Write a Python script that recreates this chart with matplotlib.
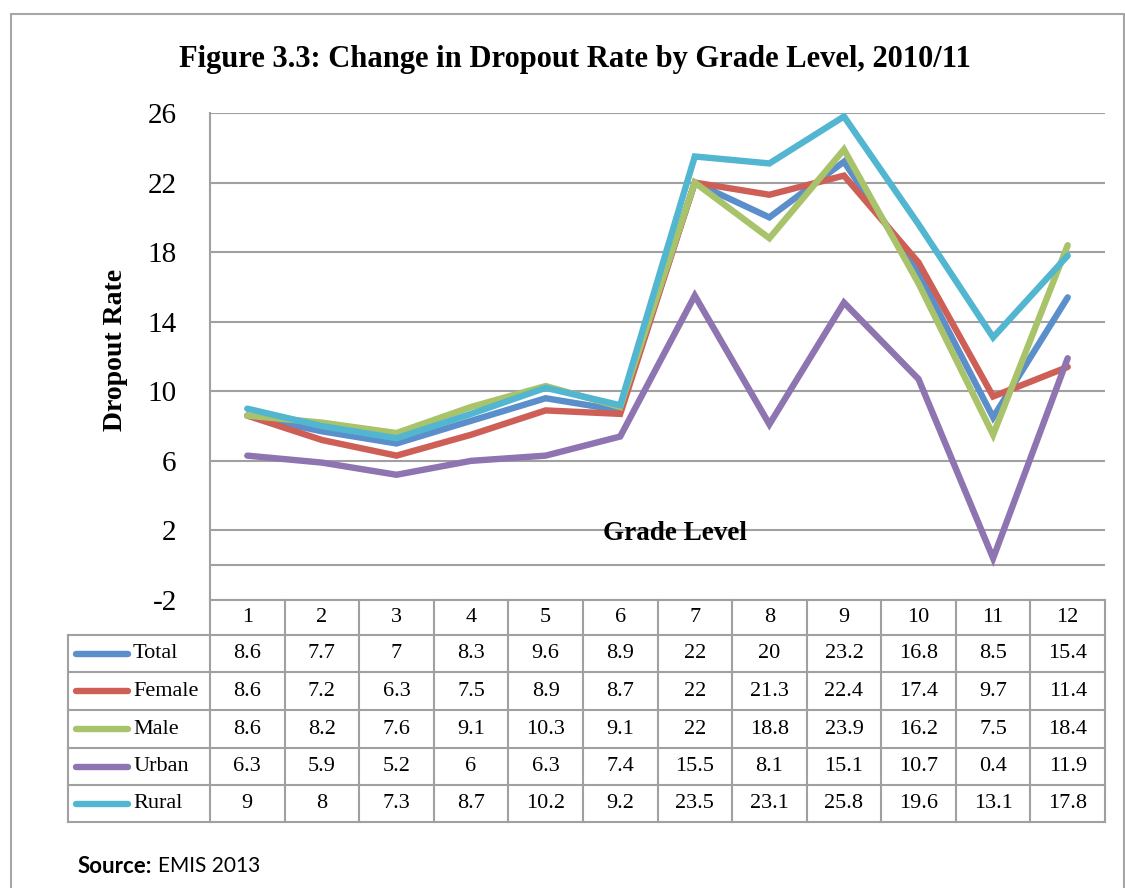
import matplotlib.pyplot as plt
from matplotlib.lines import Line2D
from matplotlib.patches import Rectangle

# data
grades = ['1', '2', '3', '4', '5', '6', '7', '8', '9', '10', '11', '12']
series_names = ['Total', 'Female', 'Male', 'Urban', 'Rural']
total = [8.6, 7.7, 7, 8.3, 9.6, 8.9, 22, 20, 23.2, 16.8, 8.5, 15.4]
female = [8.6, 7.2, 6.3, 7.5, 8.9, 8.7, 22, 21.3, 22.4, 17.4, 9.7, 11.4]
male = [8.6, 8.2, 7.6, 9.1, 10.3, 9.1, 22, 18.8, 23.9, 16.2, 7.5, 18.4]
urban = [6.3, 5.9, 5.2, 6, 6.3, 7.4, 15.5, 8.1, 15.1, 10.7, 0.4, 11.9]
rural = [9, 8, 7.3, 8.7, 10.2, 9.2, 23.5, 23.1, 25.8, 19.6, 13.1, 17.8]
y_ticks = [-2, 2, 6, 10, 14, 18, 22, 26]

series = [total, female, male, urban, rural]
colors = ['#5b8fcb', '#cd5f57', '#a8c36a', '#8e74b0', '#52b6d0']

serif = ['Liberation Serif', 'DejaVu Serif']
W, H = 1125, 888
grid_col = '#a0a0a0'


def fx(x):
    return x / W


def fy(y):
    return 1 - y / H


fig = plt.figure(figsize=(11.25, 8.88), dpi=100)

# outer frame
fig.patches.append(Rectangle((fx(11), fy(900)), fx(1124) - fx(11), fy(14) - fy(900),
                             transform=fig.transFigure, fill=False,
                             edgecolor='#a6a6a6', linewidth=1.5))

# plot area
left, right, top, bottom = 210, 1105, 113, 600
ax = fig.add_axes([fx(left), fy(bottom), fx(right) - fx(left), fy(top) - fy(bottom)])
x = list(range(len(grades)))
for vals, c in zip(series, colors):
    ax.plot(x, vals, color=c, linewidth=4.6, solid_capstyle='round', solid_joinstyle='miter')

ax.set_xlim(-0.5, len(grades) - 0.5)
ax.set_ylim(-2, 26)
ax.set_yticks(y_ticks)
ax.set_yticklabels([str(v) for v in y_ticks], fontfamily=serif, fontsize=21)
ax.tick_params(axis='y', length=0, pad=24)
ax.set_xticks([])
for t in y_ticks:
    ax.axhline(t, color=grid_col, linewidth=1.5, zorder=0)
ax.axhline(0, color=grid_col, linewidth=1.5, zorder=0)
for s in ['top', 'right', 'bottom']:
    ax.spines[s].set_visible(False)
ax.spines['left'].set_color(grid_col)
ax.spines['left'].set_linewidth(1.5)

ax.text(0.52, 1.8, 'Grade Level', transform=ax.get_yaxis_transform(), ha='center',
        va='center', fontfamily=serif, fontsize=19.5, fontweight='bold')

fig.text(fx(575), fy(60), 'Figure 3.3: Change in Dropout Rate by Grade Level, 2010/11',
         ha='center', va='center', fontfamily=serif, fontsize=22, fontweight='bold')
fig.text(fx(115), fy(350), 'Dropout Rate', rotation=90, ha='center', va='center',
         fontfamily=serif, fontsize=20, fontweight='bold')

# data table under the chart
col_w = (right - left) / len(grades)
row_edges = [600, 635, 672, 710, 748, 785, 822]
tbl_left = 68


def hline(y, x0, x1):
    fig.add_artist(Line2D([fx(x0), fx(x1)], [fy(y), fy(y)], color=grid_col, linewidth=1.5))


def vline(x, y0, y1):
    fig.add_artist(Line2D([fx(x), fx(x)], [fy(y0), fy(y1)], color=grid_col, linewidth=1.5))


hline(row_edges[0], left, right)
for y in row_edges[1:]:
    hline(y, tbl_left, right)
vline(tbl_left, row_edges[1], row_edges[-1])
for i in range(len(grades) + 1):
    vline(left + i * col_w, row_edges[0], row_edges[-1])

for i, g in enumerate(grades):
    cx = left + (i + 0.5) * col_w
    fig.text(fx(cx), fy((row_edges[0] + row_edges[1]) / 2), g, ha='center', va='center',
             fontfamily=serif, fontsize=16)

for r, (name, vals, c) in enumerate(zip(series_names, series, colors)):
    cy = (row_edges[r + 1] + row_edges[r + 2]) / 2
    fig.add_artist(Line2D([fx(76), fx(128)], [fy(cy), fy(cy)], color=c, linewidth=4.6,
                          solid_capstyle='round'))
    fig.text(fx(133), fy(cy), name, ha='left', va='center', fontfamily=serif, fontsize=16)
    for i, v in enumerate(vals):
        cx = left + (i + 0.5) * col_w
        fig.text(fx(cx), fy(cy), f'{v:g}', ha='center', va='center',
                 fontfamily=serif, fontsize=16)

src_font = ['Lato', 'DejaVu Sans']
fig.text(fx(78), fy(866), 'Source:', ha='left', va='center', fontsize=16,
         fontweight='bold', fontfamily=src_font)
fig.text(fx(158), fy(866), 'EMIS 2013', ha='left', va='center', fontsize=15,
         fontfamily=src_font)

fig.savefig('out.png', dpi=100)
